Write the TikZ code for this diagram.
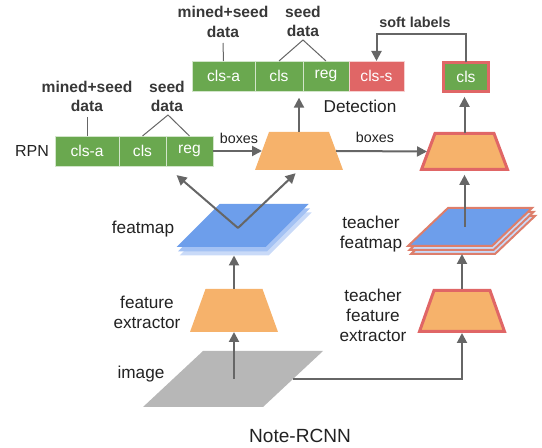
\documentclass[tikz,border=0pt]{standalone}
\usepackage{fontspec}
\setmainfont{Liberation Sans}
\usetikzlibrary{arrows.meta,calc}
\definecolor{cgreen}{HTML}{6AA84F}
\definecolor{corange}{HTML}{F6B26B}
\definecolor{cblue}{HTML}{6D9EEB}
\definecolor{cblueb}{HTML}{A4C2F4}
\definecolor{cbluec}{HTML}{C9DAF8}
\definecolor{cgrayfill}{HTML}{B7B7B7}
\definecolor{cred}{HTML}{E06666}
\definecolor{csalmon}{HTML}{DD7E6B}
\definecolor{cgray}{HTML}{666666}
\definecolor{ctext}{HTML}{222222}
% trapezoid inside a named box node: #2 name, #3 slant (px)
\newcommand\mytrap[3][]{\path[#1] (#2.south west) -- (#2.south east) -- ($(#2.north east)+(-#3,0)$) -- ($(#2.north west)+(#3,0)$) -- cycle;}
% parallelogram inside a named box node: #2 name, #3 skew (px)
\newcommand\mypara[3][]{\path[#1] (#2.south west) -- ($(#2.south east)+(-#3,0)$) -- (#2.north east) -- ($(#2.north west)+(#3,0)$) -- cycle;}
\begin{document}
\begin{tikzpicture}[x=0.75pt,y=-0.75pt,
  arr/.style={draw=cgray, line width=1.5pt, -{Triangle[length=7.5pt,width=7.5pt]}},
  thin/.style={draw=cgray, line width=0.75pt},
  cell/.style={draw=white!70!cgreen, line width=0.5pt, fill=cgreen, text=white, minimum height=22.5pt, inner sep=0pt, outer sep=0pt, font=\fontsize{11.7}{14}\selectfont, anchor=west},
  lbl/.style={font=\fontsize{12.9}{15}\selectfont, align=center, inner sep=0pt, text=ctext},
  ann/.style={font=\bfseries\fontsize{11.7}{14.5}\selectfont, align=center, inner sep=0pt, text=ctext!90},
  small/.style={font=\fontsize{10.7}{13}\selectfont, inner sep=0pt, text=ctext},
  shapebox/.style 2 args={rectangle, inner sep=0pt, outer sep=0pt, minimum width=#1*0.75pt, minimum height=#2*0.75pt}
]
\useasboundingbox (0,0) rectangle (542,448);

% image
\node[shapebox={180}{56}] (img) at (233,379) {};
\mypara[fill=cgrayfill]{img}{60}

% feature extractors
\node[shapebox={88}{43}] (fe) at (234,310.5) {};
\mytrap[fill=corange]{fe}{15.5}
\node[shapebox={85}{41}] (tfe) at (462,311) {};
\mytrap[fill=corange, draw=cred, line width=2.25pt, line join=miter]{tfe}{14.5}

% featmaps
\node[shapebox={132}{43}] (fm3) at (245.5,234) {};
\mypara[fill=cbluec]{fm3}{43}
\node[shapebox={132}{43}] (fm2) at (244,229.8) {};
\mypara[fill=cblueb]{fm2}{43}
\node[shapebox={132}{43}] (fm) at (242.5,225.5) {};
\mypara[fill=cblue]{fm}{43}
\node[shapebox={124}{38}] (tfm3) at (473,235) {};
\mypara[fill=cbluec, draw=csalmon, line width=1.5pt]{tfm3}{40}
\node[shapebox={124}{38}] (tfm2) at (471.5,231) {};
\mypara[fill=cbluec, draw=csalmon, line width=1.5pt]{tfm2}{40}
\node[shapebox={124}{38}] (tfm) at (470,227) {};
\mypara[fill=cblue, draw=csalmon, line width=1.5pt]{tfm}{40}

% detection heads
\node[shapebox={88}{38}] (det) at (299,151) {};
\mytrap[fill=corange]{det}{14}
\node[shapebox={86}{36}] (tdet) at (464.5,151.5) {};
\mytrap[fill=corange, draw=cred, line width=2.25pt]{tdet}{13.5}

% RPN cells
\node[cell, minimum width=48pt] (rpna) at (55,151) {cls-a};
\node[cell, minimum width=35.25pt] (rpnc) at (rpna.east) {cls};
\node[cell, minimum width=35.25pt] (rpnr) at (rpnc.east) {reg};

% Detection cells
\node[cell, minimum width=47.25pt] (dca) at (192,76) {cls-a};
\node[cell, minimum width=36pt] (dc) at (dca.east) {cls};
\node[cell, minimum width=34.5pt] (dr) at (dc.east) {reg};
\node[cell, minimum width=41.25pt, fill=cred, draw=white!70!cred] (dcs) at (dr.east) {cls-s};

% teacher cls
\node[cell, anchor=center, minimum width=33.75pt, minimum height=21.75pt, draw=cred, line width=2.25pt] (tcls) at (466,77) {cls};

% labels
\node[lbl, font=\fontsize{12}{14}\selectfont] (lrpn) at (32,151) {RPN};
\node[lbl] (ldet) at (360,106) {Detection};
\node[lbl] (lfm) at (143,229) {featmap};
\node[lbl] (lfe) at (147,312) {feature\\extractor};
\node[lbl] (limg) at (141,374) {image};
\node[lbl] (ltfm) at (371,234.5) {teacher\\featmap};
\node[lbl] (ltfe) at (373,315) {teacher\\feature\\extractor};
\node[lbl, font=\fontsize{14.3}{17}\selectfont] (ltitle) at (300,436) {Note-RCNN};
\node[small] (lb1) at (239,138) {boxes};
\node[small] (lb2) at (375,137) {boxes};
\node[ann, font=\bfseries\fontsize{10.8}{13}\selectfont] (lsoft) at (415,22) {soft labels};

% annotations
\node[ann] (a1) at (87,96.5) {mined+seed\\data};
\coordinate (a1p) at (87,117);
\draw[thin] (a1p) -- (rpna.north);
\node[ann] (a2) at (167,96.5) {seed\\data};
\coordinate (a2p) at (168,115);
\draw[thin] (rpnc.north) -- (a2p) -- (rpnr.north);
\node[ann] (a3) at (223,22) {mined+seed\\data};
\coordinate (a3p) at (223,43);
\draw[thin] (a3p) -- (dca.north);
\node[ann] (a4) at (303,21.5) {seed\\data};
\coordinate (a4p) at (303,40);
\draw[thin] (dc.north) -- (a4p) -- (dr.north);

% arrows
\draw[arr] (fe.south |- img.center) -- (fe.south);
\draw[arr] ($(img.east)+(-30,0)$) -| ($(tfe.south)+(0,1.5)$);
\draw[arr] (fe.north) -- (fe.north |- fm3.south);
\draw[arr] ($(tfe.north)+(0,-1.5)$) -- (tfe.north |- tfm3.south);
\coordinate (fmv) at (238,228);
\draw[arr, shorten >=10.5pt] (fmv) -- (rpnr.south west);
\draw[arr, shorten >=3.5pt] (fmv) -- (det.south);
\draw[arr, shorten >=4pt] (tdet.south |- tfm.center) -- (tdet.south);
\draw[arr] (rpnr.east) -- ($(det.west)+(7,0)$);
\draw[arr] ($(det.east)+(-7,0)$) -- ($(tdet.west)+(5.5,0)$);
\draw[arr, shorten >=5pt] (det.north) -- (det.north |- dc.south);
\draw[arr, shorten >=4pt] (tdet.north) -- (tdet.north |- tcls.south);
\draw[arr] (tcls.north) -- ++(0,-28) -| (dcs.north);
\end{tikzpicture}
\end{document}
